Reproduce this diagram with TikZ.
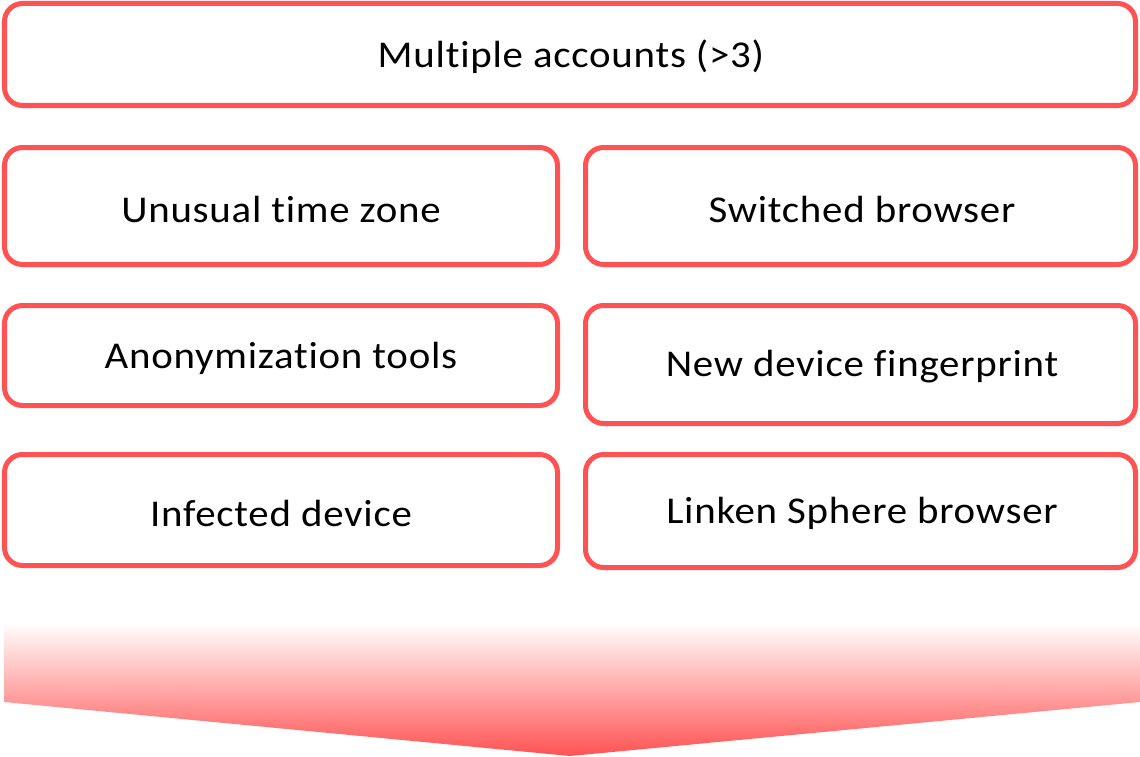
\documentclass[tikz,border=0pt]{standalone}
\usepackage{fontspec}
\setmainfont{Carlito}[Ligatures=NoCommon,LetterSpace=2,FakeStretch=1.08]
\definecolor{rd}{RGB}{255,82,82}
\begin{document}
\begin{tikzpicture}[x=1bp,y=-1bp,
  card/.style={draw=rd,line width=5bp,rounded corners=18bp,fill=white},
  lbl/.style={font=\fontsize{38}{40}\selectfont,text=black,inner sep=0pt}]
\useasboundingbox (0,0) rectangle (1140,757);
\draw[card] (4.5,3.5) rectangle (1135.5,105.5);
\draw[card] (4.5,147.5) rectangle (557.5,264.5);
\draw[card] (585.5,147.5) rectangle (1135.5,264.5);
\draw[card] (4.5,305.5) rectangle (557.5,405.5);
\draw[card] (585.5,305.5) rectangle (1135.5,423.5);
\draw[card] (4.5,454.5) rectangle (557.5,565.5);
\draw[card] (585.5,454.5) rectangle (1135.5,567.5);
\node[lbl] (t0) at (571,57) {Multiple accounts (>3)};
\node[lbl] (t1) at (281,209) {Unusual time zone};
\node[lbl] (t2) at (862,209) {Switched browser};
\node[lbl] (t3) at (281,358) {Anonymization tools};
\node[lbl] (t4) at (862,367) {New device fingerprint};
\node[lbl] (t5) at (281,513) {Infected device};
\node[lbl] (t6) at (862,513) {Linken Sphere browser};
\shade[top color=white,bottom color=rd] (4,622) -- (1140,622) -- (1140,702) -- (570,756) -- (4,702) -- cycle;
\end{tikzpicture}
\end{document}
